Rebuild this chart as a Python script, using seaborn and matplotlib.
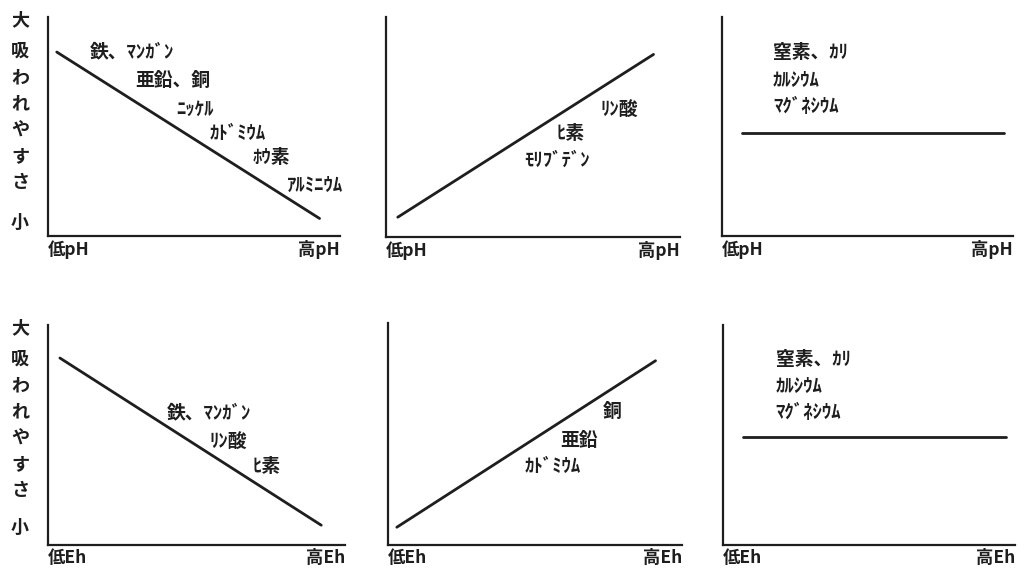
import matplotlib
matplotlib.use("Agg")
import matplotlib.pyplot as plt
import seaborn as sns

sns.set_theme(style="white")
plt.rcParams['font.family'] = ['Noto Sans CJK JP', 'DejaVu Sans']

# line end points (x, y) for each panel, axes run 0..1
line_x = [[0.03, 0.93], [0.04, 0.91], [0.07, 0.97],
          [0.04, 0.92], [0.03, 0.91], [0.07, 0.97]]
line_y = [[0.84, 0.08], [0.09, 0.83], [0.47, 0.47],
          [0.85, 0.09], [0.08, 0.83], [0.49, 0.49]]

# axis end labels
low_labels = ['低pH', '低pH', '低pH', '低Eh', '低Eh', '低Eh']
high_labels = ['高pH', '高pH', '高pH', '高Eh', '高Eh', '高Eh']

# element names per panel
names = [
    ['鉄、ﾏﾝｶﾞﾝ', '亜鉛、銅', 'ﾆｯｹﾙ', 'ｶﾄﾞﾐｳﾑ', 'ﾎｳ素', 'ｱﾙﾐﾆｳﾑ'],
    ['ﾘﾝ酸', 'ﾋ素', 'ﾓﾘﾌﾞﾃﾞﾝ'],
    ['窒素、ｶﾘ', 'ｶﾙｼｳﾑ', 'ﾏｸﾞﾈｼｳﾑ'],
    ['鉄、ﾏﾝｶﾞﾝ', 'ﾘﾝ酸', 'ﾋ素'],
    ['銅', '亜鉛', 'ｶﾄﾞﾐｳﾑ'],
    ['窒素、ｶﾘ', 'ｶﾙｼｳﾑ', 'ﾏｸﾞﾈｼｳﾑ'],
]
name_pos = [
    [(0.144, 0.84), (0.30, 0.71), (0.44, 0.58), (0.555, 0.47), (0.70, 0.36), (0.82, 0.23)],
    [(0.73, 0.58), (0.58, 0.47), (0.47, 0.35)],
    [(0.175, 0.84), (0.175, 0.71), (0.175, 0.59)],
    [(0.40, 0.60), (0.545, 0.47), (0.69, 0.355)],
    [(0.73, 0.60), (0.585, 0.47), (0.465, 0.355)],
    [(0.18, 0.845), (0.18, 0.72), (0.18, 0.60)],
]

# axes boxes in pixels: left, top, right, bottom
boxes = [(48, 17, 340, 236), (386, 17, 680, 237), (722, 17, 1013, 236),
         (48, 325, 345, 545), (388, 323, 682, 545), (723, 325, 1015, 545)]

W, H = 1024, 576
fig = plt.figure(figsize=(W / 100, H / 100), dpi=100)
ink = '#1e1e1e'

for i, (l, t, r, b) in enumerate(boxes):
    ax = fig.add_axes([l / W, 1 - b / H, (r - l) / W, (b - t) / H])
    sns.lineplot(x=line_x[i], y=line_y[i], ax=ax, color=ink, lw=2)
    ax.set_xlim(0, 1)
    ax.set_ylim(0, 1)
    sns.despine(ax=ax)
    for s in ['left', 'bottom']:
        ax.spines[s].set_color(ink)
        ax.spines[s].set_linewidth(1.6)
    ax.set_yticks([])
    ax.set_xticks([0, 1])
    ax.set_xticklabels([low_labels[i], high_labels[i]], fontsize=12.5,
                       fontweight='bold', color=ink)
    ax.tick_params(axis='x', length=0, pad=3)
    tl = ax.get_xticklabels()
    tl[0].set_ha('left')
    tl[1].set_ha('right')
    for txt, (px, py) in zip(names[i], name_pos[i]):
        ax.text(px, py, txt, transform=ax.transAxes, fontsize=13.5,
                fontweight='bold', color=ink, ha='left', va='center')

# vertical y label for each row
for top, bot in [(20, 222), (328, 527)]:
    fig.text(20 / W, 1 - top / H, '大', fontsize=13, fontweight='bold',
             color=ink, ha='center', va='center')
    fig.text(20 / W, 1 - (top + 22) / H, '吸\nわ\nれ\nや\nす\nさ', fontsize=13,
             fontweight='bold', color=ink, ha='center', va='top', linespacing=1.48)
    fig.text(20 / W, 1 - bot / H, '小', fontsize=13, fontweight='bold',
             color=ink, ha='center', va='center')

fig.savefig('out.png', dpi=100)
